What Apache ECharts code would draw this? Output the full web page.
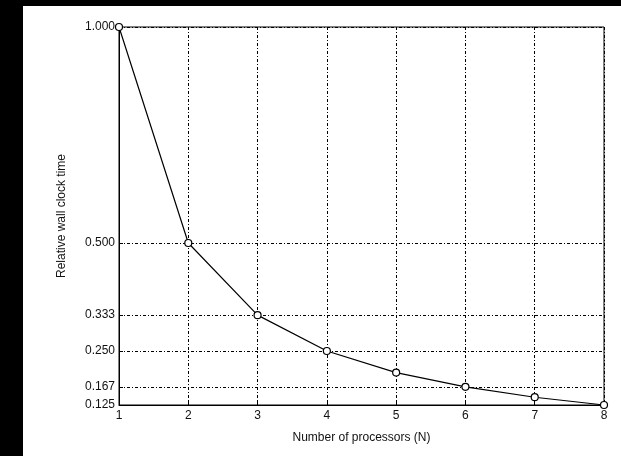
<!DOCTYPE html>
<html>
<head>
<meta charset="utf-8">
<script src="https://cdn.jsdelivr.net/npm/echarts@6/dist/echarts.min.js"></script>
<style>
  html, body { margin: 0; padding: 0; background: #fff; overflow: hidden; }
  .bar { position: absolute; background: #000; }
  #top { left: 0; top: 0; width: 100%; height: 6px; }
  #left { left: 0; top: 0; width: 23px; height: 100%; min-height: 456px; }
  #chart { position: absolute; left: 23px; top: 6px; width: 598px; height: 450px; background: #fff; }
</style>
</head>
<body>
<div id="top" class="bar"></div>
<div id="left" class="bar"></div>
<div id="chart"></div>
<script>
const processors = [1, 2, 3, 4, 5, 6, 7, 8]
const relativeTime = [1.0, 0.5, 0.333, 0.25, 0.2, 0.167, 0.143, 0.125]
const yTicks = [0.125, 0.167, 0.25, 0.333, 0.5, 1.0]
const xTicks = [1, 2, 3, 4, 5, 6, 7, 8]

const font = 'Liberation Sans, Arial, sans-serif'
const dashDot = { color: '#000', width: 1, type: [3, 2, 1, 2] }

const chart = echarts.init(document.getElementById('chart'), null, { renderer: 'canvas' })

chart.setOption({
  animation: false,
  grid: {
    left: 96, right: 17, top: 21, bottom: 51,
    show: true, borderColor: '#000', borderWidth: 1, backgroundColor: 'transparent',
  },
  xAxis: {
    type: 'value',
    min: 1,
    max: 8,
    interval: 1,
    name: 'Number of processors (N)',
    nameLocation: 'middle',
    nameGap: 27,
    nameTextStyle: { color: '#111', fontSize: 12, fontFamily: font },
    axisLine: { lineStyle: { color: '#000', width: 1 } },
    axisTick: { inside: true, length: 4, customValues: xTicks, lineStyle: { color: '#000' } },
    axisLabel: { color: '#111', fontSize: 12, fontFamily: font, margin: 5, customValues: xTicks },
    splitLine: { show: true, lineStyle: dashDot },
  },
  yAxis: {
    type: 'value',
    min: 0.125,
    max: 1.0,
    name: 'Relative wall clock time',
    nameLocation: 'middle',
    nameGap: 51,
    nameRotate: 90,
    nameTextStyle: { color: '#111', fontSize: 12, fontFamily: font },
    axisLine: { show: true, lineStyle: { color: '#000', width: 1 } },
    axisTick: { show: true, inside: true, length: 4, customValues: yTicks, lineStyle: { color: '#000' } },
    axisLabel: {
      color: '#111', fontSize: 12, fontFamily: font, margin: 4,
      customValues: yTicks,
      formatter: v => v.toFixed(3),
    },
    splitLine: { show: true, lineStyle: dashDot },
  },
  series: [{
    type: 'line',
    data: processors.map((n, i) => [n, relativeTime[i]]),
    symbol: 'circle',
    symbolSize: 7,
    showAllSymbol: true,
    lineStyle: { color: '#000', width: 1.2 },
    itemStyle: { color: '#fff', borderColor: '#000', borderWidth: 1.2 },
  }],
})
</script>
</body>
</html>
